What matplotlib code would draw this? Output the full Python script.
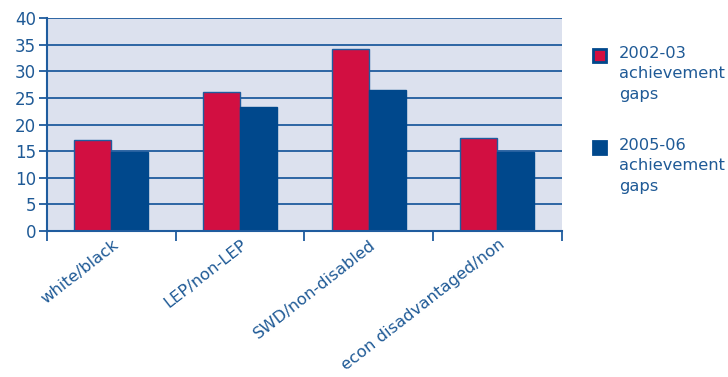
import matplotlib
matplotlib.use("Agg")
import matplotlib.pyplot as plt
from matplotlib.patches import Rectangle
import matplotlib.transforms as mtransforms
import numpy as np

categories = ["white/black", "LEP/non-LEP", "SWD/non-disabled", "econ disadvantaged/non"]
gaps_2002 = [17.1, 26.2, 34.3, 17.5]
gaps_2005 = [14.9, 23.3, 26.6, 14.9]
series_labels = ["2002-03\nachievement\ngaps", "2005-06\nachievement\ngaps"]
yticks = [0, 5, 10, 15, 20, 25, 30, 35, 40]

RED = "#D20F41"
BLUE = "#00488C"
LINE = "#1F5C9E"
TEXT = "#1F5A96"
BG = "#DCE1EE"

plt.rcParams['font.family'] = ['DejaVu Sans']
FS = 12

fig = plt.figure(figsize=(7.28, 3.77), dpi=100)
ax = fig.add_axes([47/728, 1-231/377, (561.5-47)/728, (231-18.3)/377])
ax.set_facecolor(BG)

x = np.arange(len(categories))
w = 0.288
ax.bar(x - w/2, gaps_2002, width=w, color=RED, edgecolor=LINE, linewidth=1.0, zorder=3)
ax.bar(x + w/2, gaps_2005, width=w, color=BLUE, edgecolor=BLUE, linewidth=1.0, zorder=3)

ax.set_xlim(-0.5, len(categories) - 0.5)
ax.set_ylim(0, 40)
ax.set_yticks(yticks)
ax.set_yticklabels([str(v) for v in yticks], fontsize=FS, color=TEXT)
ax.yaxis.grid(True, color=LINE, linewidth=1.3, zorder=1)
ax.set_axisbelow(True)

for s in ["top", "right"]:
    ax.spines[s].set_visible(False)
for s in ["left", "bottom"]:
    ax.spines[s].set_color(LINE)
    ax.spines[s].set_linewidth(1.5)
    ax.spines[s].set_zorder(4)

ax.tick_params(axis='y', length=6, width=1.3, color=LINE, pad=2)
ax.set_xticks(np.arange(-0.5, len(categories)), minor=True)
ax.set_xticks(x)
ax.tick_params(axis='x', which='minor', length=7, width=1.3, color=LINE)
ax.tick_params(axis='x', which='major', length=0)
ax.set_xticklabels([])

trans = mtransforms.blended_transform_factory(ax.transData, ax.transAxes) + \
    mtransforms.ScaledTranslation(1/100, -6/100, fig.dpi_scale_trans)
for xi, lab in zip(x, categories):
    ax.text(xi, 0, lab, transform=trans,
            rotation=38, rotation_mode='anchor', ha='right', va='top',
            fontsize=11.8, color=TEXT)

# legend
colors_face = [RED, BLUE]
tops = [48.5, 140.5]
for lab, fc, t in zip(series_labels, colors_face, tops):
    fig.patches.append(Rectangle((593/728, 1-(t+13)/377), 13/728, 13/377,
                                 transform=fig.transFigure, facecolor=fc,
                                 edgecolor=BLUE, linewidth=2.0))
    fig.text(619/728, 1-(t-3)/377, lab, ha='left', va='top', fontsize=11.7,
             color=TEXT, linespacing=1.47)

fig.savefig("out.png", dpi=100)
